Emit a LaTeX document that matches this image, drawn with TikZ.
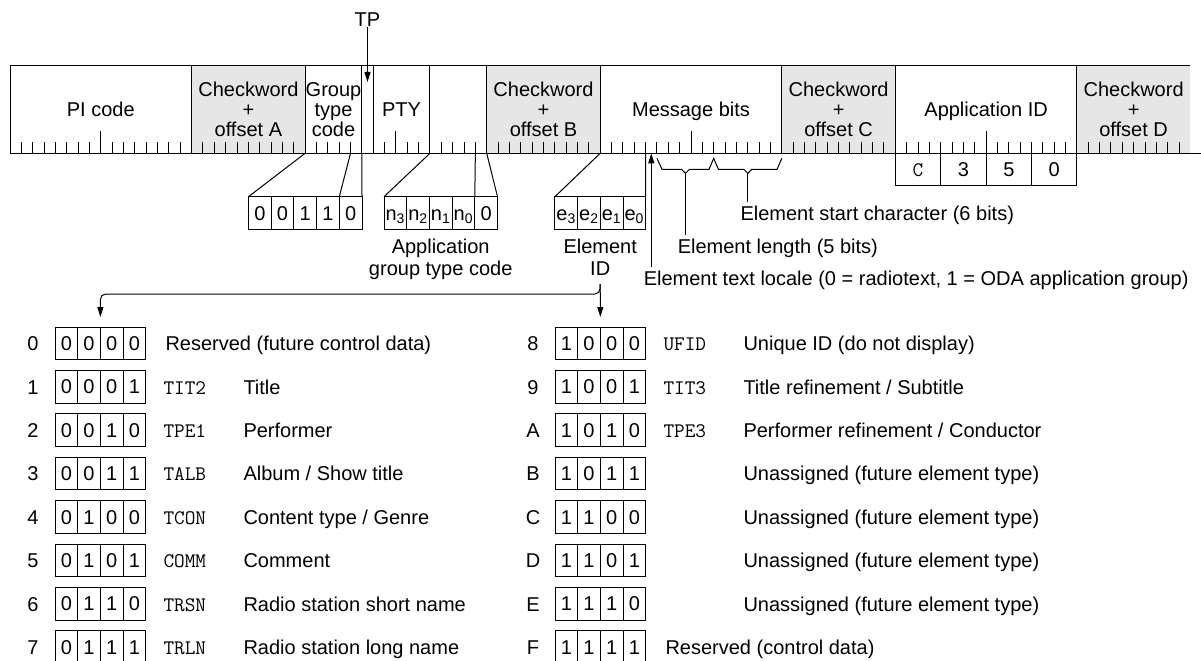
\documentclass[tikz,border=0pt]{standalone}
\usepackage{fontspec}
\setmainfont{Liberation Sans}
\usetikzlibrary{arrows.meta}

\definecolor{cwgrey}{HTML}{E6E6E6}

\tikzset{
  fld/.style={font=\fontsize{15}{14.8}\selectfont, align=center, inner sep=0pt},
  note/.style={font=\fontsize{15}{16}\selectfont, align=center, inner sep=0pt},
  txt/.style={font=\fontsize{15}{18}\selectfont, anchor=base west, inner sep=0pt},
  tag/.style={font=\ttfamily\fontsize{15.5}{18}\selectfont, anchor=base west, inner sep=0pt},
  cell/.style={draw, minimum width=17.025pt, minimum height=24.45pt, inner sep=0pt,
    outer sep=0pt, text height=10.7pt, text depth=0pt, font=\fontsize{15}{18}\selectfont},
  arr/.style={-{Triangle[length=7.5pt,width=4.5pt]}},
}

\begin{document}
\begin{tikzpicture}[x=0.75pt,y=-0.75pt,line width=0.75pt]
\useasboundingbox (0,0) rectangle (1201,660);

% the group: four blocks of 26 bits
\foreach \a/\b in {16/26,42/52,68/78,94/104}
  \fill[cwgrey] ({10+11.35*\a},66) rectangle ({10+11.35*\b},153.3);
\foreach \i in {1,...,103}
  \draw ({10+11.35*\i},153.3) -- ++(0,-11);
\foreach \i in {8,34,60,86}
  \draw ({10+11.35*\i},153.3) -- ++(0,-22);
\foreach \i in {16,26,31,32,37,42,52,68,78,94}
  \draw ({10+11.35*\i},66) -- ++(0,87.3);
\draw (1190.4,66) -- (10,66) -- (10,153.3) -- (1201,153.3);
\foreach \i in {26,30,31,37,41,42,52,56}
  \coordinate (bit\i) at ({10+11.35*\i},153.3);

\node[fld] (pi) at (100.8,109.6) {PI code};
\node[fld] (cwa) at (248.4,109.4) {Checkword\\+\\offset A};
\node[fld] (gtc) at (333.5,109.4) {Group\\type\\code};
\node[fld] (pty) at (401.6,109.6) {PTY};
\node[fld] (cwb) at (543.5,109.4) {Checkword\\+\\offset B};
\node[fld] (msg) at (691,111.7) {Message bits};
\node[fld] (cwc) at (838.6,109.4) {Checkword\\+\\offset C};
\node[fld] (appid) at (986.1,111.7) {Application ID};
\node[fld] (cwd) at (1133.6,109.4) {Checkword\\+\\offset D};

\node[fld] (tp) at (367.5,20) {TP};
\coordinate (tpbit) at (367.5,82);
\draw[arr] (tp.south) -- (tpbit);

% expanded fields
\foreach \v [count=\k from 0] in {0,0,1,1,0}
  \node[cell] (g\k) at ({259.85+22.7*\k},213) {\v};
\foreach \v [count=\k from 0] in {n\textsubscript{3},n\textsubscript{2},n\textsubscript{1},n\textsubscript{0},0}
  \node[cell] (a\k) at ({395.35+22.7*\k},213) {\v};
\foreach \v [count=\k from 0] in {e\textsubscript{3},e\textsubscript{2},e\textsubscript{1},e\textsubscript{0}}
  \node[cell] (e\k) at ({566.25+22.7*\k},213) {\v};
\draw (bit26) -- (g0.north west);
\draw (bit30) -- (g4.north west);
\draw (bit31) -- (g4.north east);
\draw (bit37) -- (a0.north west);
\draw (bit41) -- (a4.north west);
\draw (bit42) -- (a4.north east);
\draw (bit52) -- (e0.north west);
\draw (bit56) -- (e3.north east);

\foreach \v [count=\k from 0] in {{\ttfamily\fontsize{15.5}{18}\selectfont C},3,5,0}
  \node[cell, minimum width=34.05pt, minimum height=24.3pt] (h\k) at ({918+45.4*\k},169.5) {\v};

\node[note] (agtc) at (440.7,259.3) {Application\\group type code};
\node[note] (eid) at (600.2,257.2) {Element\\ID};
\node[txt] (estart) at (740,220.5) {Element start character (6 bits)};
\node[txt] (elen) at (677.3,253.9) {Element length (5 bits)};
\node[txt] (locale) at (643.3,285.5) {Element text locale (0 = radiotext, 1 = ODA application group)};

\coordinate (lentip) at (685.4,173.3);
\coordinate (starttip) at (747.8,173.3);
\draw (657,158.3) -- (662,169.3) -- (681.4,169.3) -- (lentip) -- (689.4,169.3) -- (709,169.3)
  -- (713.7,158.3) -- (718.4,169.3) -- (743.8,169.3) -- (starttip) -- (751.8,169.3)
  -- (777,169.3) -- (781.8,158.3);
\draw[shorten >=3pt] (lentip) -- (lentip |- elen.north);
\draw[shorten >=3pt] (starttip) -- (starttip |- estart.north);
\coordinate (locbit) at (651.3,153.3);
\draw[arr, shorten <=3pt] (locbit |- locale.north) -- (locbit);

% element ID table
\foreach \row/\id/\tg/\tx/\what in {
  0/0//165/{Reserved (future control data)},
  1/1/TIT2/243/Title,
  2/2/TPE1/243/Performer,
  3/3/TALB/243/{Album / Show title},
  4/4/TCON/243/{Content type / Genre},
  5/5/COMM/243/Comment,
  6/6/TRSN/243/Radio station short name,
  7/7/TRLN/243/Radio station long name,
  8/8/UFID/243/Unique ID (do not display),
  9/9/TIT3/243/{Title refinement / Subtitle},
  10/A/TPE3/243/{Performer refinement / Conductor},
  11/B//243/Unassigned (future element type),
  12/C//243/Unassigned (future element type),
  13/D//243/Unassigned (future element type),
  14/E//243/Unassigned (future element type),
  15/F//165/Reserved (control data)}
{
  \pgfmathsetmacro\cx{500*int(\row/8)}
  \pgfmathsetmacro\ry{343.3+43.4*mod(\row,8)}
  \node[txt, anchor=base] (id\row) at (\cx+33,\ry+7.3) {\id};
  \foreach \k in {0,...,3} {
    \pgfmathtruncatemacro\bv{mod(floor(\row/2^(3-\k)),2)}
    \node[cell] (b\row-\k) at (\cx+66.35+22.7*\k,\ry) {\bv};
  }
  \node[tag] (c\row) at (\cx+163,\ry+7.3) {\tg};
  \node[txt] (d\row) at (\cx+\tx,\ry+7.3) {\what};
}

\coordinate (eidfoot) at (600.2,284);
\coordinate (fork) at (600.2,294);
\draw[arr, shorten >=7.5pt] (eidfoot) -- (b8-1.north east);
\draw[arr, rounded corners=4pt, shorten >=7.5pt] (eidfoot) -- (fork) -| (b0-1.north east);
\end{tikzpicture}
\end{document}
